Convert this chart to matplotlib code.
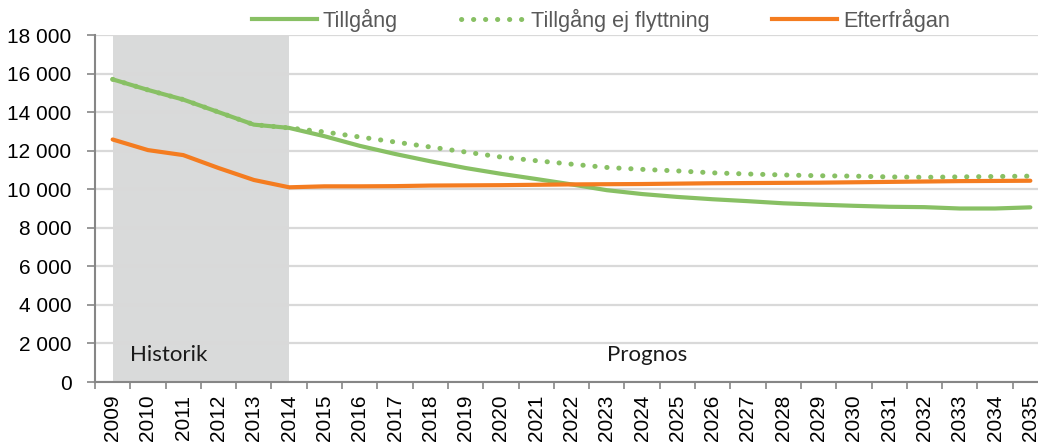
import matplotlib
matplotlib.use("Agg")
import matplotlib.pyplot as plt
from matplotlib.ticker import FuncFormatter, MultipleLocator
from matplotlib.lines import Line2D

years = list(range(2009, 2036))
tillgang = [15700, 15150, 14650, 14000, 13350, 13180, 12750, 12250, 11830, 11450,
            11100, 10800, 10530, 10250, 9950, 9750, 9600, 9480, 9380, 9270,
            9200, 9140, 9090, 9070, 9000, 9000, 9060]
tillgang_ej = [15700, 15150, 14650, 14000, 13350, 13180, 12970, 12710, 12450, 12190,
               11930, 11670, 11480, 11300, 11130, 11030, 10950, 10850, 10790, 10740,
               10700, 10680, 10640, 10620, 10640, 10660, 10680]
efterfragan = [12580, 12030, 11770, 11100, 10480, 10100, 10150, 10150, 10160, 10190,
               10200, 10210, 10230, 10250, 10260, 10270, 10290, 10310, 10320, 10330,
               10340, 10360, 10380, 10400, 10420, 10430, 10440]
labels = ["Tillgång", "Tillgång ej flyttning", "Efterfrågan"]
hist_start, hist_end = 2009, 2014

GREEN = "#88C064"
ORANGE = "#F47C20"

plt.rcParams['font.family'] = ['Liberation Sans', 'DejaVu Sans']

fig = plt.figure(figsize=(10.38, 4.45), dpi=100)
ax = fig.add_axes([95/1038, 1-382/445, (1048-95)/1038, (382-35)/445])

x = list(range(len(years)))
hs = years.index(hist_start)
he = years.index(hist_end)
ax.axvspan(hs, he, color="#D9DADA", zorder=0, lw=0)

ax.plot(x, tillgang_ej, color=GREEN, lw=3.6, linestyle=(0, (0.05, 2.35)),
        dash_capstyle='round', zorder=3)
ax.plot(x, tillgang, color=GREEN, lw=3.0, zorder=4, solid_capstyle='round')
ax.plot(x, efterfragan, color=ORANGE, lw=3.0, zorder=5, solid_capstyle='round')

ax.set_xlim(-0.5, len(years) - 0.5)
ax.set_ylim(0, 18000)
ax.yaxis.set_major_locator(MultipleLocator(2000))
ax.yaxis.set_major_formatter(FuncFormatter(lambda v, p: f"{int(v):,}".replace(",", " ")))
ax.grid(axis='y', color="#D9D9D9", lw=1.6, zorder=1)
ax.set_axisbelow(True)

ax.set_xticks([i + 0.5 for i in range(-1, len(years))], minor=False)
ax.set_xticklabels([])
ax.set_xticks(x, minor=True)
ax.set_xticklabels([str(y) for y in years], minor=True, rotation=90, fontsize=15)
ax.tick_params(axis='x', which='minor', length=0, pad=9)
ax.tick_params(axis='x', which='major', length=5, width=1.2, color="#868686")
ax.tick_params(axis='y', length=6, width=1.2, color="#868686", labelsize=15, pad=11)

for s in ['top', 'right']:
    ax.spines[s].set_visible(False)
for s in ['left', 'bottom']:
    ax.spines[s].set_color("#868686")
    ax.spines[s].set_linewidth(1.5)

ax.text(0.5, 900, "Historik", fontsize=16, family=['Lato', 'DejaVu Sans'], color="#1a1a1a", va='bottom')
ax.text(14.0, 900, "Prognos", fontsize=16, family=['Lato', 'DejaVu Sans'], color="#1a1a1a", va='bottom')

handles = [
    Line2D([], [], color=GREEN, lw=3.0),
    Line2D([], [], color=GREEN, lw=3.6, linestyle=(0, (0.05, 2.35)), dash_capstyle='round'),
    Line2D([], [], color=ORANGE, lw=3.0),
]
leg = fig.legend(handles, labels, loc='center', bbox_to_anchor=(601/1038, 1-20/445),
                 ncol=3, frameon=False, fontsize=15.6, handlelength=3.0,
                 handletextpad=0.25, columnspacing=2.9, labelcolor="#595959")

fig.savefig("out.png", dpi=100)
